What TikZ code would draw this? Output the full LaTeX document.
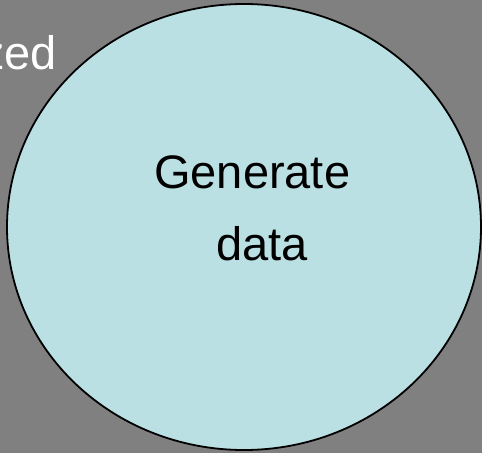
\documentclass[tikz,border=0pt]{standalone}
\usepackage{fontspec}
\usetikzlibrary{shapes.geometric}
\setmainfont{Liberation Sans}
\definecolor{slidegray}{HTML}{808080}
\definecolor{bubblefill}{HTML}{BBE0E3}
\begin{document}
\begin{tikzpicture}[x=1pt,y=-1pt,
  bubble/.style={draw=black,line width=1.8pt,fill=bubblefill},
  bubbletext/.style={inner sep=0pt,font=\fontsize{47}{56}\selectfont,text=black},
  sidetext/.style={inner sep=0pt,font=\fontsize{47}{56}\selectfont,text=white}]
  % slide background
  \fill[slidegray] (0,0) rectangle (482,453);
  \useasboundingbox (0,0) rectangle (482,453);
  % process bubble
  \node[bubble,ellipse,minimum width=474pt,minimum height=446pt,inner sep=0pt] (gen) at (244,227) {};
  \node[bubbletext,anchor=base west] (lineA) at (154,188) {Generate};
  \node[bubbletext,anchor=base west] (lineB) at (216,260) {data};
  % trailing part of the neighbouring label
  \node[sidetext,anchor=base east] (side) at (57,69) {zed};
\end{tikzpicture}
\end{document}
